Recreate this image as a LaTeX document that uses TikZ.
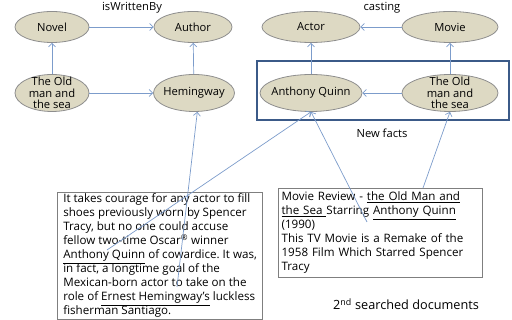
\documentclass[tikz,border=0pt]{standalone}
\usepackage{fontspec}
\setmainfont{Open Sans}
\usetikzlibrary{shapes.geometric,arrows.meta}

\definecolor{conceptfill}{HTML}{DDD9C3}
\definecolor{conceptline}{HTML}{8E8E8E}
\definecolor{linkblue}{HTML}{7C9CCB}
\definecolor{factblue}{HTML}{3B5A88}
\definecolor{docline}{HTML}{7F7F7F}

\tikzset{
  >={Straight Barb[length=3.5pt,width=7pt]},
  concept/.style={ellipse, draw=conceptline, fill=conceptfill, line width=0.8pt, inner sep=0pt},
  ctext/.style={align=center, inner sep=0pt, font=\fontsize{11.2}{11.5}\selectfont},
  link/.style={->, draw=linkblue, line width=0.7pt},
  doc/.style={draw=docline, line width=1.2pt, align=left, anchor=north west, inner xsep=3pt, inner ysep=3pt, font=\fontsize{11.6}{14}\selectfont\frenchspacing}
}

\begin{document}
\begin{tikzpicture}[x=1pt, y=1pt]
  \useasboundingbox (0,0) rectangle (512,320);

  \node[concept, minimum width=74pt, minimum height=31pt, label={[ctext]center:Novel}] (novel) at (52,293) {};
  \node[concept, minimum width=78pt, minimum height=31pt, label={[ctext]center:Author}] (author) at (193,293) {};
  \node[concept, minimum width=98pt, minimum height=31pt, label={[ctext]center:Actor}] (actor) at (311,293) {};
  \node[concept, minimum width=96pt, minimum height=31pt, label={[ctext]center:Movie}] (movie) at (450,293) {};

  \node[concept, minimum width=74pt, minimum height=37pt, label={[ctext]center:The Old\\man and\\the sea}] (oldL) at (52,227) {};
  \node[concept, minimum width=81pt, minimum height=37pt, label={[ctext]center:Hemingway}] (hem) at (194,227) {};
  \node[concept, minimum width=102pt, minimum height=37pt, label={[ctext]center:Anthony Quinn}] (quinn) at (311,227) {};
  \node[concept, minimum width=96pt, minimum height=37pt, label={[ctext]center:The Old\\man and\\the sea}] (oldR) at (450,227) {};

  \node[ctext] (writtenby) at (132,312) {isWrittenBy};
  \node[ctext] (casting) at (382,312) {casting};

  % new facts
  \draw[factblue, line width=1.8pt] (257,200) rectangle (509,259);
  \node[ctext] (newfacts) at (382,187) {New facts};

  \draw[link] (novel) -- (author);
  \draw[link] (oldL) -- (novel);
  \draw[link] (oldL) -- (hem);
  \draw[link] (hem) -- (author);
  \draw[link] (movie) -- (actor);
  \draw[link] (quinn) -- (actor);
  \draw[link] (oldR) -- (quinn);
  \draw[link] (oldR) -- (movie);

  % searched documents
  \node[doc, minimum width=205pt, inner ysep=1.5pt] (article) at (57,128) {It takes courage for any actor to fill\\
    shoes previously worn by Spencer\\
    Tracy, but no one could accuse\\
    fellow two-time Oscar\textsuperscript{®} winner\\
    \underline{Anthony Quinn} of cowardice. It was,\\
    in fact, a longtime goal of the\\
    Mexican-born actor to take on the\\
    role of \underline{Ernest Hemingway's} luckless\\
    fisherman Santiago.};

  \node[doc, text width=198pt, inner xsep=3pt, inner ysep=3.5pt] (review) at (278,132) {Movie Review - \underline{the Old Man and}\\
    \underline{the Sea }Starring \underline{Anthony Quinn}\\
    (1990)\\
    This TV Movie is a Remake of the\\
    1958 Film Which Starred Spencer\\
    Tracy};

  \node[font=\fontsize{12.7}{14}\selectfont] (searched) at (406,16) {2\textsuperscript{nd} searched documents};

  \coordinate (quinnA) at (107,70);
  \coordinate (hemA) at (177,33);
  \coordinate (quinnB) at (367,98);
  \coordinate (movieB) at (423,132);

  \draw[link] (quinnA) -- (quinn.south);
  \draw[link] (hemA) -- (hem.-80);
  \draw[link] (quinnB) -- (quinn.south);
  \draw[link] (movieB) -- (oldR.south);
\end{tikzpicture}
\end{document}
